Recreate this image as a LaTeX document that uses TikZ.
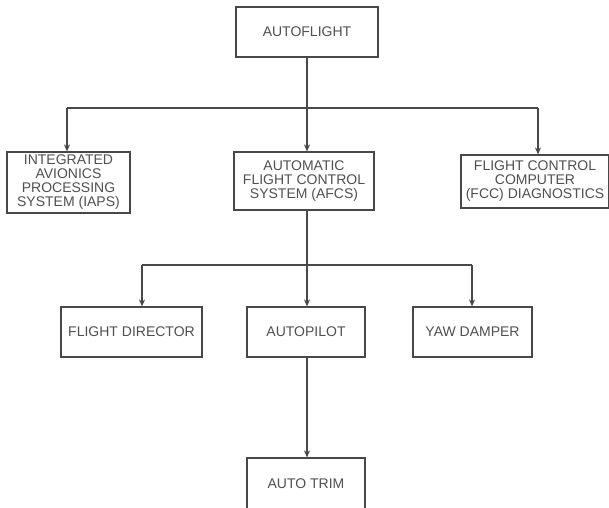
\documentclass[tikz,border=0pt]{standalone}
\usepackage{fontspec}
\setmainfont{Liberation Sans}
\usetikzlibrary{arrows.meta}
\definecolor{linec}{HTML}{484848}
\definecolor{textc}{HTML}{505050}
\begin{document}
\begin{tikzpicture}[x=1pt,y=-1pt,
  box/.style={draw=linec, line width=1.2pt, fill=white, text=textc,
    font=\fontsize{14}{14}\selectfont, align=center, inner sep=0pt},
  conn/.style={draw=linec, line width=1.2pt},
  arr/.style={conn, -{Stealth[length=7pt,width=6pt]}}]
\useasboundingbox (0,0) rectangle (609,507);
\fill[white] (0,0) rectangle (609,507);

\node[box, minimum width=142pt, minimum height=50pt] (af) at (307,32) {AUTOFLIGHT};
\node[box, minimum width=123pt, minimum height=61pt] (iaps) at (68.5,182.5) {INTEGRATED\\AVIONICS\\PROCESSING\\SYSTEM (IAPS)};
\node[box, minimum width=140pt, minimum height=58pt] (afcs) at (304,181) {AUTOMATIC\\FLIGHT CONTROL\\SYSTEM (AFCS)};
\node[box, minimum width=148pt, minimum height=53pt] (fcc) at (535,181.5) {FLIGHT CONTROL\\COMPUTER\\(FCC) DIAGNOSTICS};
\node[box, minimum width=141pt, minimum height=50pt] (fd) at (131.5,332) {FLIGHT DIRECTOR};
\node[box, minimum width=118pt, minimum height=50pt] (ap) at (306,332) {AUTOPILOT};
\node[box, minimum width=119pt, minimum height=50pt] (yd) at (472.5,332) {YAW DAMPER};
\node[box, minimum width=118pt, minimum height=52pt] (at) at (306,484) {AUTO TRIM};

\coordinate (j1) at (307,108);
\coordinate (h1l) at (67,108);
\coordinate (h1r) at (538,108);
\coordinate (j2) at (307,265);
\coordinate (h2l) at (142,265);
\coordinate (h2r) at (472,265);

\draw[conn] (j1 |- af.south) -- (j1);
\draw[conn] (h1l) -- (h1r);
\draw[arr] (h1l) -- (h1l |- iaps.north);
\draw[arr] (j1) -- (j1 |- afcs.north);
\draw[arr] (h1r) -- (h1r |- fcc.north);

\draw[conn] (j2 |- afcs.south) -- (j2);
\draw[conn] (h2l) -- (h2r);
\draw[arr] (h2l) -- (h2l |- fd.north);
\draw[arr] (j2) -- (j2 |- ap.north);
\draw[arr] (h2r) -- (h2r |- yd.north);

\draw[arr] (ap.south -| j2) -- (at.north -| j2);
\end{tikzpicture}
\end{document}
